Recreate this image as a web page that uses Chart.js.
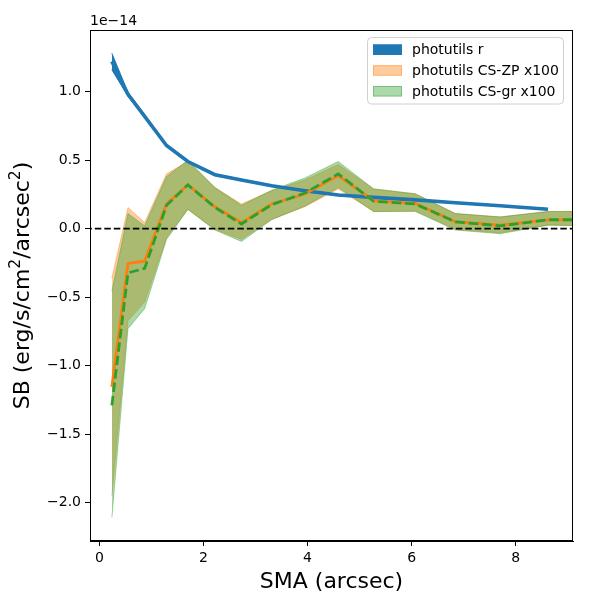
<!DOCTYPE html>
<html>
<head>
<meta charset="utf-8">
<script src="https://cdn.jsdelivr.net/npm/chart.js@4.4.1/dist/chart.umd.min.js"></script>
<style>
  html, body { margin: 0; padding: 0; background: #fff; }
  #wrap { width: 600px; height: 600px; }
</style>
</head>
<body>
<div id="wrap"><canvas id="c" width="600" height="600"></canvas></div>
<script>
// Surface brightness profiles, values in units of 1e-14 erg/s/cm^2/arcsec^2
const smaR  = [0.24, 0.55, 0.87, 1.29, 1.70, 2.22, 2.73, 3.31, 3.95, 4.59, 5.27, 6.07, 6.84, 7.70, 8.62];
const rMid  = [1.22, 0.98, 0.82, 0.607, 0.49, 0.394, 0.355, 0.313, 0.277, 0.245, 0.228, 0.21, 0.189, 0.167, 0.142];
const rHi   = [1.28, 0.995, 0.83, 0.615, 0.495, 0.40, 0.36, 0.318, 0.281, 0.249, 0.232, 0.214, 0.193, 0.171, 0.146];
const rLo   = [1.16, 0.965, 0.81, 0.60, 0.485, 0.388, 0.35, 0.308, 0.273, 0.241, 0.224, 0.206, 0.185, 0.163, 0.138];

const smaCS = [0.24, 0.55, 0.87, 1.29, 1.70, 2.22, 2.73, 3.31, 3.95, 4.59, 5.27, 6.07, 6.84, 7.70, 8.62, 9.6];
const zpMid = [-1.155, -0.254, -0.237, 0.179, 0.32, 0.16, 0.044, 0.18, 0.253, 0.387, 0.203, 0.184, 0.051, 0.025, 0.064, 0.064];
const zpHi  = [-0.36, 0.154, 0.044, 0.40, 0.49, 0.30, 0.18, 0.277, 0.355, 0.468, 0.29, 0.253, 0.11, 0.086, 0.125, 0.125];
const zpLo  = [-1.95, -0.673, -0.536, -0.066, 0.142, -0.005, -0.078, 0.069, 0.16, 0.29, 0.125, 0.13, -0.005, -0.03, 0.027, 0.02];
const grMid = [-1.29, -0.323, -0.29, 0.17, 0.32, 0.155, 0.034, 0.175, 0.26, 0.40, 0.20, 0.18, 0.05, 0.02, 0.065, 0.065];
const grHi  = [-0.457, 0.11, 0.02, 0.38, 0.50, 0.30, 0.17, 0.28, 0.37, 0.49, 0.29, 0.255, 0.11, 0.085, 0.125, 0.125];
const grLo  = [-2.11, -0.73, -0.585, -0.08, 0.14, -0.01, -0.093, 0.065, 0.165, 0.30, 0.125, 0.125, -0.01, -0.037, 0.025, 0.02];

const xTicks = [0, 2, 4, 6, 8];
const yTicks = [-2.0, -1.5, -1.0, -0.5, 0.0, 0.5, 1.0];
const legendLabels = ["photutils r", "photutils CS-ZP x100", "photutils CS-gr x100"];
// y label pieces: [text, superscript?]
const yLabel = [["SB (erg/s/cm", false], ["2", true], ["/arcsec", false], ["2", true], [")", false]];

const BLUE = "#1f77b4", ORANGE = "#ff7f0e", GREEN = "#2ca02c";
const ORANGE_A = "rgba(255,127,14,0.4)", GREEN_A = "rgba(44,160,44,0.4)";
const FONT = "'DejaVu Sans', 'Liberation Sans', sans-serif";

const pts = (xs, ys) => ys.map((y, i) => ({x: xs[i], y}));
const line = (data, color, width, extra) => Object.assign(
  {data, borderColor: color, borderWidth: width, pointRadius: 0, fill: false, tension: 0}, extra);

const datasets = [
  line([{x: -1, y: 0}, {x: 10, y: 0}], "#000", 1.9, {borderDash: [6.5, 3], order: 0}),
  line(pts(smaCS, grMid), GREEN, 2.8, {borderDash: [9.5, 4], order: 1}),
  line(pts(smaCS, zpMid), ORANGE, 2.8, {order: 2}),
  line(pts(smaR, rMid), BLUE, 3.6, {order: 3}),
  line(pts(smaCS, grHi), GREEN_A, 1, {fill: "+1", backgroundColor: GREEN_A, order: 4}),
  line(pts(smaCS, grLo), GREEN_A, 1, {order: 5}),
  line(pts(smaCS, zpHi), ORANGE_A, 1, {fill: "+1", backgroundColor: ORANGE_A, order: 6}),
  line(pts(smaCS, zpLo), ORANGE_A, 1, {order: 7}),
  line(pts(smaR, rHi), BLUE, 1, {fill: "+1", backgroundColor: BLUE, order: 8}),
  line(pts(smaR, rLo), BLUE, 1, {order: 9}),
];

const minus = v => v.toFixed(1).replace("-", "\u2212");

// frame, offset text, y label with superscripts and legend box, drawn like matplotlib
const extras = {
  id: "extras",
  afterDraw(chart) {
    const {ctx, chartArea: a} = chart;
    ctx.save();
    ctx.strokeStyle = "#000"; ctx.lineWidth = 1;
    ctx.strokeRect(a.left + 0.5, a.top + 0.5, a.right - a.left - 1, a.bottom - a.top - 1);

    ctx.fillStyle = "#000"; ctx.font = "14px " + FONT;
    ctx.textAlign = "left"; ctx.textBaseline = "alphabetic";
    ctx.fillText("1e\u221214", a.left, a.top - 5);

    // rotated y label
    const big = "22px " + FONT, small = "15.5px " + FONT;
    let total = 0;
    yLabel.forEach(([t, sup]) => { ctx.font = sup ? small : big; total += ctx.measureText(t).width; });
    ctx.save();
    ctx.translate(28.5, (a.top + a.bottom) / 2);
    ctx.rotate(-Math.PI / 2);
    let px = -total / 2;
    yLabel.forEach(([t, sup]) => {
      ctx.font = sup ? small : big;
      ctx.fillText(t, px, sup ? -9 : 0);
      px += ctx.measureText(t).width;
    });
    ctx.restore();

    const bx = 367.5, by = 37.5, bw = 196, bh = 66.5;
    ctx.beginPath(); ctx.roundRect(bx, by, bw, bh, 4);
    ctx.fillStyle = "rgba(255,255,255,0.8)"; ctx.fill();
    ctx.strokeStyle = "#d0d0d0"; ctx.stroke();
    const fills = [BLUE, ORANGE_A, GREEN_A], rows = [49.5, 70.2, 91];
    ctx.font = "14px " + FONT;
    legendLabels.forEach((t, i) => {
      ctx.fillStyle = fills[i];
      ctx.fillRect(373, rows[i] - 5, 29, 10.5);
      ctx.strokeStyle = fills[i]; ctx.lineWidth = 1;
      ctx.strokeRect(373.5, rows[i] - 4.5, 28, 9.5);
      ctx.fillStyle = "#000"; ctx.textBaseline = "middle";
      ctx.fillText(t, 412, rows[i] + 1);
    });
    ctx.restore();
  }
};

new Chart(document.getElementById("c"), {
  type: "line",
  data: {datasets},
  plugins: [extras],
  options: {
    responsive: false, animation: false, devicePixelRatio: 1,
    layout: {padding: {top: 30, right: 27, left: 0, bottom: 0}},
    plugins: {legend: {display: false}, tooltip: {enabled: false}},
    scales: {
      x: {
        type: "linear", min: -0.18, max: 9.1,
        afterFit: s => { s.height = 59; },
        afterBuildTicks: s => { s.ticks = xTicks.map(v => ({value: v})); },
        grid: {display: true, drawOnChartArea: false, drawTicks: true, tickLength: 5, color: "#000"},
        border: {display: true, color: "#000", width: 1},
        ticks: {color: "#000", padding: 4, maxRotation: 0, font: {family: FONT, size: 14}, callback: v => String(v)},
        title: {display: true, text: "SMA (arcsec)", color: "#000", font: {family: FONT, size: 22}, padding: {top: 0, bottom: 5}}
      },
      y: {
        type: "linear", min: -2.28, max: 1.45,
        afterFit: s => { s.width = 90; },
        afterBuildTicks: s => { s.ticks = yTicks.map(v => ({value: v})); },
        grid: {display: true, drawOnChartArea: false, drawTicks: true, tickLength: 5, color: "#000"},
        border: {display: true, color: "#000", width: 1},
        ticks: {color: "#000", padding: 4, font: {family: FONT, size: 14}, callback: v => minus(v)},
        title: {display: false}
      }
    }
  }
});
</script>
</body>
</html>
